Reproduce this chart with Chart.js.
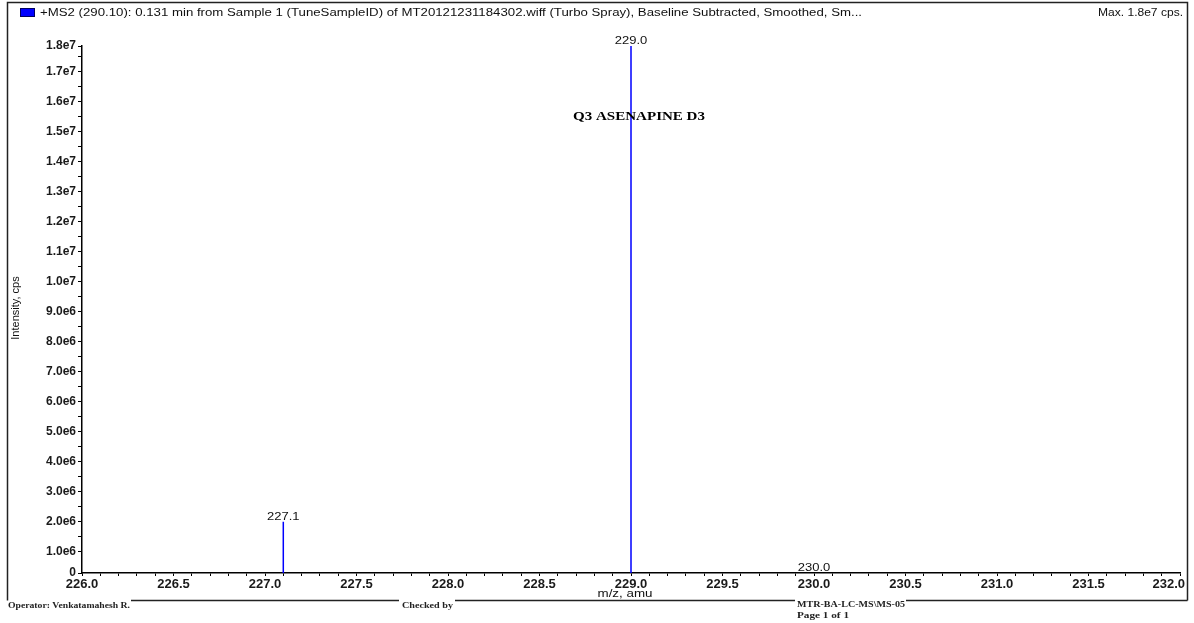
<!DOCTYPE html>
<html>
<head>
<meta charset="utf-8">
<title>Q3 ASENAPINE D3</title>
<script src="https://cdn.jsdelivr.net/npm/chart.js@4/dist/chart.umd.min.js"></script>
<style>
  html, body { margin: 0; padding: 0; background: #fff; }
  #wrap { width: 1194px; height: 623px; position: relative; }
</style>
</head>
<body>
<div id="wrap"><canvas id="spectrum"></canvas></div>
<script>
// Centroided peaks of the product-ion spectrum
const peakMz = [227.1, 229.0, 230.0];
const peakIntensity = [2.0e6, 1.786e7, 5.0e4];
const peakLabels = ['227.1', '229.0', '230.0'];

// Axis ranges and labelled ticks
const xAxisMin = 226.0;
const xAxisMax = 232.0;
const xTickValues = [226.0, 226.5, 227.0, 227.5, 228.0, 228.5, 229.0, 229.5, 230.0, 230.5, 231.0, 231.5, 232.0];
const xTickLabels = ['226.0', '226.5', '227.0', '227.5', '228.0', '228.5', '229.0', '229.5', '230.0', '230.5', '231.0', '231.5', '232.0'];

const yAxisMin = 2.9e5;
const yAxisMax = 1.786e7;
const yTickValues = [yAxisMin, 1e6, 2e6, 3e6, 4e6, 5e6, 6e6, 7e6, 8e6, 9e6, 1e7, 1.1e7, 1.2e7, 1.3e7, 1.4e7, 1.5e7, 1.6e7, 1.7e7, yAxisMax];
const yTickLabels = ['0', '1.0e6', '2.0e6', '3.0e6', '4.0e6', '5.0e6', '6.0e6', '7.0e6', '8.0e6', '9.0e6', '1.0e7', '1.1e7', '1.2e7', '1.3e7', '1.4e7', '1.5e7', '1.6e7', '1.7e7', '1.8e7'];

// Page texts
const headerText = '+MS2 (290.10): 0.131 min from Sample 1 (TuneSampleID) of MT20121231184302.wiff (Turbo Spray), Baseline Subtracted, Smoothed, Sm...';
const maxText = 'Max. 1.8e7 cps.';
const compoundText = 'Q3 ASENAPINE D3';
const xTitle = 'm/z, amu';
const yTitle = 'Intensity, cps';
const operatorText = 'Operator: Venkatamahesh R.';
const checkedText = 'Checked by';
const instrumentText = 'MTR-BA-LC-MS\\MS-05';
const pageText = 'Page 1 of 1';

const tickFontFamily = '"Liberation Sans", Arial, sans-serif';

// Each peak is a vertical stick from the baseline; null breaks the line between sticks
const stickPoints = [];
peakMz.forEach((mz, i) => {
  stickPoints.push({ x: mz, y: 0 }, { x: mz, y: peakIntensity[i] }, { x: mz, y: null });
});

function labelFor(values, labels, v) {
  for (let i = 0; i < values.length; i++) {
    if (Math.abs(values[i] - v) < 1e-6 * Math.max(1, Math.abs(v))) return labels[i];
  }
  return '';
}

function drawText(ctx, str, x, y, o) {
  ctx.save();
  ctx.font = o.font;
  ctx.fillStyle = o.color || '#111';
  ctx.textBaseline = o.baseline || 'middle';
  ctx.textAlign = 'left';
  const w = ctx.measureText(str).width;
  const sx = o.width ? o.width / w : (o.sx || 1);
  let ax = x;
  if (o.align === 'center') ax = x - w * sx / 2;
  else if (o.align === 'right') ax = x - w * sx;
  ctx.translate(ax, y);
  ctx.scale(sx, 1);
  ctx.fillText(str, 0, 0);
  ctx.restore();
}

const pageDecor = {
  id: 'pageDecor',
  beforeDraw(chart) {
    const ctx = chart.ctx;
    ctx.save();
    ctx.fillStyle = '#fff';
    ctx.fillRect(0, 0, chart.width, chart.height);
    ctx.restore();
  },
  afterDraw(chart) {
    const ctx = chart.ctx;
    ctx.save();
    // frame
    ctx.strokeStyle = '#222';
    ctx.lineWidth = 1.5;
    ctx.beginPath();
    ctx.moveTo(7.5, 600.5); ctx.lineTo(7.5, 2.5); ctx.lineTo(1187.5, 2.5); ctx.lineTo(1187.5, 600.5);
    ctx.moveTo(131, 600.5); ctx.lineTo(399, 600.5);
    ctx.moveTo(455, 600.5); ctx.lineTo(795, 600.5);
    ctx.moveTo(906, 600.5); ctx.lineTo(1187.5, 600.5);
    ctx.stroke();

    // series swatch
    ctx.fillStyle = '#0000ff';
    ctx.fillRect(20, 8, 15, 9);
    ctx.strokeStyle = '#000060';
    ctx.lineWidth = 1;
    ctx.strokeRect(20.5, 8.5, 14, 8);
    ctx.restore();

    drawText(ctx, headerText, 40, 13, { font: '10px "Liberation Sans", Arial, sans-serif', width: 822 });
    drawText(ctx, maxText, 1183, 13, { font: '10px "Liberation Sans", Arial, sans-serif', width: 85, align: 'right' });

    drawText(ctx, compoundText, 639, 117, { font: 'bold 13px "Liberation Serif", "Times New Roman", serif', width: 132, align: 'center', color: '#000' });

    drawText(ctx, xTitle, 625, 594, { font: '10px "Liberation Sans", Arial, sans-serif', width: 55, align: 'center' });

    // last x tick label sits inside the frame, right-aligned to the axis end
    const xs = chart.scales.x;
    drawText(ctx, xTickLabels[xTickLabels.length - 1], xs.getPixelForValue(xAxisMax) + 5, 584,
      { font: 'bold 13px ' + tickFontFamily, align: 'right', color: '#1a1a1a' });

    ctx.save();
    ctx.translate(16, 308);
    ctx.rotate(-Math.PI / 2);
    ctx.font = '11px "Liberation Sans", Arial, sans-serif';
    ctx.fillStyle = '#111';
    ctx.textAlign = 'center';
    ctx.textBaseline = 'middle';
    ctx.fillText(yTitle, 0, 0);
    ctx.restore();

    const serif = 'bold 9px "Liberation Serif", "Times New Roman", serif';
    drawText(ctx, operatorText, 8, 606, { font: serif, width: 122, color: '#222' });
    drawText(ctx, checkedText, 402, 606, { font: serif, width: 51, color: '#222' });
    drawText(ctx, instrumentText, 797, 605, { font: serif, width: 108, color: '#222' });
    drawText(ctx, pageText, 797, 616, { font: serif, width: 52, color: '#222' });
  }
};

const peakLabelPlugin = {
  id: 'peakLabels',
  afterDatasetsDraw(chart) {
    const ctx = chart.ctx;
    const xs = chart.scales.x, ys = chart.scales.y;
    peakMz.forEach((mz, i) => {
      const px = xs.getPixelForValue(mz);
      const py = Math.min(ys.getPixelForValue(peakIntensity[i]), chart.chartArea.bottom);
      drawText(ctx, peakLabels[i], px, py - 2, { font: '10px "Liberation Sans", Arial, sans-serif', sx: 1.3, align: 'center', baseline: 'alphabetic', color: '#111' });
    });
  }
};

new Chart(document.getElementById('spectrum'), {
  type: 'line',
  data: {
    datasets: [{
      data: stickPoints,
      borderColor: '#0000ff',
      borderWidth: 1.5,
      pointRadius: 0,
      spanGaps: false,
      tension: 0
    }]
  },
  options: {
    responsive: true,
    maintainAspectRatio: false,
    animation: false,
    events: [],
    layout: { padding: { left: 8, right: 14, top: 46, bottom: 30 } },
    plugins: { legend: { display: false }, tooltip: { enabled: false }, title: { display: false } },
    scales: {
      x: {
        type: 'linear',
        min: xAxisMin,
        max: xAxisMax,
        afterBuildTicks(scale) {
          const ticks = [];
          xTickValues.forEach((v, i) => {
            ticks.push({ value: v });
            if (i < xTickValues.length - 1) {
              const step = (xTickValues[i + 1] - v) / 5;
              for (let k = 1; k < 5; k++) ticks.push({ value: +(v + k * step).toFixed(2) });
            }
          });
          scale.ticks = ticks;
        },
        afterFit(scale) {
          scale.height = 20;
          scale.paddingLeft = 0;
          scale.paddingRight = 0;
        },
        grid: { display: true, drawOnChartArea: false, drawTicks: true, tickLength: 3, color: '#000', lineWidth: 1 },
        border: { display: true, color: '#000', width: 1.5 },
        ticks: {
          autoSkip: false, maxRotation: 0, minRotation: 0, padding: 1,
          color: '#1a1a1a',
          font: { family: tickFontFamily, size: 13, weight: 'bold' },
          callback: (v) => (Math.abs(v - xAxisMax) < 1e-9 ? '' : labelFor(xTickValues, xTickLabels, v))
        }
      },
      y: {
        type: 'linear',
        min: yAxisMin,
        max: yAxisMax,
        afterBuildTicks(scale) {
          const ticks = [];
          yTickValues.forEach((v, i) => {
            ticks.push({ value: v });
            if (i > 0 && i < yTickValues.length - 1) ticks.push({ value: v + 5e5 });
          });
          ticks.sort((a, b) => a.value - b.value);
          scale.ticks = ticks;
        },
        afterFit(scale) {
          scale.width = 74;
          scale.paddingTop = 0;
          scale.paddingBottom = 0;
        },
        grid: { display: true, drawOnChartArea: false, drawTicks: true, tickLength: 4, color: '#000', lineWidth: 1 },
        border: { display: true, color: '#000', width: 1.5 },
        ticks: {
          autoSkip: false, padding: 2,
          color: '#1a1a1a',
          font: { family: tickFontFamily, size: 12, weight: 'bold' },
          callback: (v) => labelFor(yTickValues, yTickLabels, v)
        }
      }
    }
  },
  plugins: [pageDecor, peakLabelPlugin]
});
</script>
</body>
</html>
